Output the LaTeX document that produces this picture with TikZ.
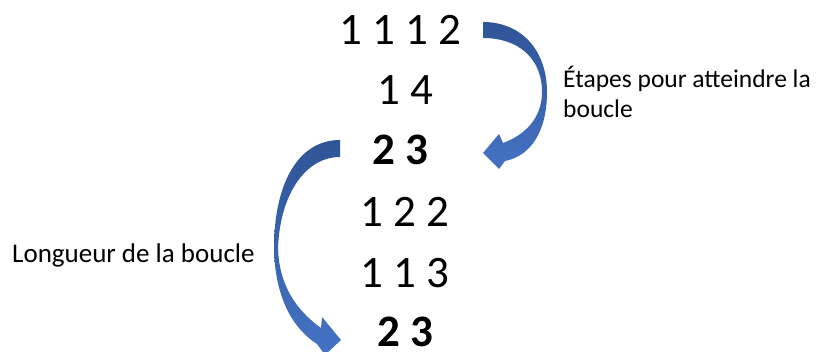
\documentclass[tikz,border=0pt]{standalone}
\usepackage{fontspec}
\setmainfont{Carlito}
\begin{document}
\begin{tikzpicture}[x=1pt,y=-1pt,
  num/.style={anchor=base,inner sep=0pt,font=\fontsize{45}{50}\selectfont},
  bnum/.style={num,font=\fontsize{45}{50}\selectfont\bfseries},
  lbl/.style={anchor=base west,inner sep=0pt,font=\fontsize{25.5}{30}\selectfont},
  arr/.style={top color={rgb,255:red,47;green,85;blue,151},bottom color={rgb,255:red,68;green,114;blue,196},draw=none}]
\useasboundingbox (0,0) rectangle (832,352);
\node[num]  (r1) at (400,45)  {1 1 1 2};
\node[num]  (r2) at (405,105) {1 4};
\node[bnum] (r3) at (400,165) {2 3};
\node[num]  (r4) at (405,227) {1 2 2};
\node[num]  (r5) at (405,288) {1 1 3};
\node[bnum] (r6) at (405,346) {2 3};
\node[lbl] (t1) at (563,88) {Étapes pour atteindre la};
\node[lbl] (t2) at (563,118) {boucle};
\node[lbl,font=\fontsize{27}{30}\selectfont] (t3) at (12,263) {Longueur de la boucle};
% right curved arrow
\shade[arr] (483,22) .. controls (521,22) and (547,50) .. (547,92)
  .. controls (547,131) and (531,156) .. (505,161)
  -- (499,169) -- (483,153) -- (499,134) -- (503,143)
  .. controls (525,135) and (542,118) .. (542,92)
  .. controls (542,58) and (518,38) .. (483,38) -- cycle;
% left curved arrow
\shade[arr] (340,140) .. controls (300,140) and (275,180) .. (274,245)
  .. controls (274,291) and (289,326) .. (317,344)
  -- (325,355) -- (341,340) -- (322,317) -- (321,328)
  .. controls (296,310) and (279,285) .. (278,248)
  .. controls (280,195) and (305,157) .. (340,157) -- cycle;
\end{tikzpicture}
\end{document}
